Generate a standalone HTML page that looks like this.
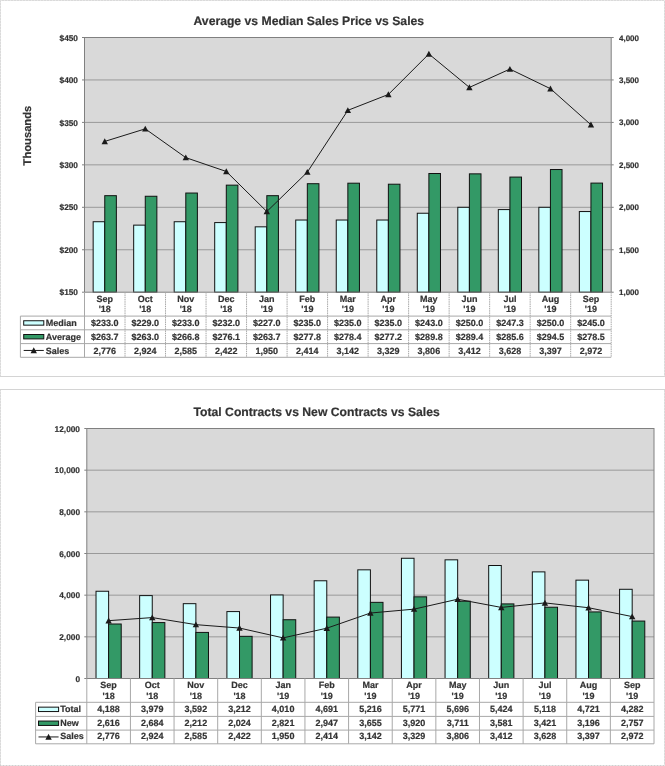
<!DOCTYPE html>
<html><head><meta charset="utf-8"><style>
html,body{margin:0;padding:0;background:#fff;}
svg{display:block;will-change:transform;text-rendering:geometricPrecision;}
</style></head><body>
<svg width="665" height="766" viewBox="0 0 665 766">
<path d="M0.5 376.5 V0.5 H664.5 V376.5" fill="none" stroke="#e6e6e6" stroke-width="1"/>
<path d="M0.5 376.5 V0.5 H664.5 V376.5" fill="none" stroke="#cfcfcf" stroke-width="1" stroke-dasharray="1 2"/>
<path d="M0.5 765.5 V389.5 H664.5 V765.5" fill="none" stroke="#e6e6e6" stroke-width="1"/>
<path d="M0.5 765.5 V389.5 H664.5 V765.5" fill="none" stroke="#cfcfcf" stroke-width="1" stroke-dasharray="1 2"/>
<line x1="0" y1="376.5" x2="665" y2="376.5" stroke="#d4d4d4" stroke-width="1"/>
<line x1="0" y1="389.5" x2="665" y2="389.5" stroke="#d4d4d4" stroke-width="1"/>
<line x1="0" y1="765.5" x2="665" y2="765.5" stroke="#e6e6e6" stroke-width="1"/>
<line x1="0" y1="765.5" x2="665" y2="765.5" stroke="#cfcfcf" stroke-width="1" stroke-dasharray="1 2"/>
<text x="193.5" y="25" font-family="Liberation Sans, sans-serif" font-weight="bold" stroke="#333333" stroke-width="0.2" font-size="12.2" fill="#333333">Average vs Median Sales Price vs Sales</text>
<rect x="84.5" y="37.5" width="526.7" height="254.7" fill="#d9d9d9"/>
<line x1="82.0" y1="292.20" x2="84.5" y2="292.20" stroke="#808080" stroke-width="1"/>
<text x="78.0" y="295.30" font-family="Liberation Sans, sans-serif" font-weight="bold" stroke="#333333" stroke-width="0.2" font-size="8.3" fill="#333333" text-anchor="end">$150</text>
<line x1="84.5" y1="249.75" x2="611.2" y2="249.75" stroke="#999999" stroke-width="1"/>
<line x1="82.0" y1="249.75" x2="84.5" y2="249.75" stroke="#808080" stroke-width="1"/>
<text x="78.0" y="252.85" font-family="Liberation Sans, sans-serif" font-weight="bold" stroke="#333333" stroke-width="0.2" font-size="8.3" fill="#333333" text-anchor="end">$200</text>
<line x1="84.5" y1="207.30" x2="611.2" y2="207.30" stroke="#999999" stroke-width="1"/>
<line x1="82.0" y1="207.30" x2="84.5" y2="207.30" stroke="#808080" stroke-width="1"/>
<text x="78.0" y="210.40" font-family="Liberation Sans, sans-serif" font-weight="bold" stroke="#333333" stroke-width="0.2" font-size="8.3" fill="#333333" text-anchor="end">$250</text>
<line x1="84.5" y1="164.85" x2="611.2" y2="164.85" stroke="#999999" stroke-width="1"/>
<line x1="82.0" y1="164.85" x2="84.5" y2="164.85" stroke="#808080" stroke-width="1"/>
<text x="78.0" y="167.95" font-family="Liberation Sans, sans-serif" font-weight="bold" stroke="#333333" stroke-width="0.2" font-size="8.3" fill="#333333" text-anchor="end">$300</text>
<line x1="84.5" y1="122.40" x2="611.2" y2="122.40" stroke="#999999" stroke-width="1"/>
<line x1="82.0" y1="122.40" x2="84.5" y2="122.40" stroke="#808080" stroke-width="1"/>
<text x="78.0" y="125.50" font-family="Liberation Sans, sans-serif" font-weight="bold" stroke="#333333" stroke-width="0.2" font-size="8.3" fill="#333333" text-anchor="end">$350</text>
<line x1="84.5" y1="79.95" x2="611.2" y2="79.95" stroke="#999999" stroke-width="1"/>
<line x1="82.0" y1="79.95" x2="84.5" y2="79.95" stroke="#808080" stroke-width="1"/>
<text x="78.0" y="83.05" font-family="Liberation Sans, sans-serif" font-weight="bold" stroke="#333333" stroke-width="0.2" font-size="8.3" fill="#333333" text-anchor="end">$400</text>
<line x1="82.0" y1="37.50" x2="84.5" y2="37.50" stroke="#808080" stroke-width="1"/>
<text x="78.0" y="40.60" font-family="Liberation Sans, sans-serif" font-weight="bold" stroke="#333333" stroke-width="0.2" font-size="8.3" fill="#333333" text-anchor="end">$450</text>
<line x1="611.2" y1="292.20" x2="613.7" y2="292.20" stroke="#808080" stroke-width="1"/>
<text x="619.0" y="295.20" font-family="Liberation Sans, sans-serif" font-weight="bold" stroke="#333333" stroke-width="0.2" font-size="8.0" fill="#333333">1,000</text>
<line x1="611.2" y1="249.75" x2="613.7" y2="249.75" stroke="#808080" stroke-width="1"/>
<text x="619.0" y="252.75" font-family="Liberation Sans, sans-serif" font-weight="bold" stroke="#333333" stroke-width="0.2" font-size="8.0" fill="#333333">1,500</text>
<line x1="611.2" y1="207.30" x2="613.7" y2="207.30" stroke="#808080" stroke-width="1"/>
<text x="619.0" y="210.30" font-family="Liberation Sans, sans-serif" font-weight="bold" stroke="#333333" stroke-width="0.2" font-size="8.0" fill="#333333">2,000</text>
<line x1="611.2" y1="164.85" x2="613.7" y2="164.85" stroke="#808080" stroke-width="1"/>
<text x="619.0" y="167.85" font-family="Liberation Sans, sans-serif" font-weight="bold" stroke="#333333" stroke-width="0.2" font-size="8.0" fill="#333333">2,500</text>
<line x1="611.2" y1="122.40" x2="613.7" y2="122.40" stroke="#808080" stroke-width="1"/>
<text x="619.0" y="125.40" font-family="Liberation Sans, sans-serif" font-weight="bold" stroke="#333333" stroke-width="0.2" font-size="8.0" fill="#333333">3,000</text>
<line x1="611.2" y1="79.95" x2="613.7" y2="79.95" stroke="#808080" stroke-width="1"/>
<text x="619.0" y="82.95" font-family="Liberation Sans, sans-serif" font-weight="bold" stroke="#333333" stroke-width="0.2" font-size="8.0" fill="#333333">3,500</text>
<line x1="611.2" y1="37.50" x2="613.7" y2="37.50" stroke="#808080" stroke-width="1"/>
<text x="619.0" y="40.50" font-family="Liberation Sans, sans-serif" font-weight="bold" stroke="#333333" stroke-width="0.2" font-size="8.0" fill="#333333">4,000</text>
<rect x="93.16" y="221.73" width="11.60" height="70.47" fill="#ccffff" stroke="#111111" stroke-width="1"/>
<rect x="104.76" y="195.67" width="11.60" height="96.53" fill="#339966" stroke="#111111" stroke-width="1"/>
<rect x="133.67" y="225.13" width="11.60" height="67.07" fill="#ccffff" stroke="#111111" stroke-width="1"/>
<rect x="145.27" y="196.26" width="11.60" height="95.94" fill="#339966" stroke="#111111" stroke-width="1"/>
<rect x="174.19" y="221.73" width="11.60" height="70.47" fill="#ccffff" stroke="#111111" stroke-width="1"/>
<rect x="185.79" y="193.04" width="11.60" height="99.16" fill="#339966" stroke="#111111" stroke-width="1"/>
<rect x="214.70" y="222.58" width="11.60" height="69.62" fill="#ccffff" stroke="#111111" stroke-width="1"/>
<rect x="226.30" y="185.14" width="11.60" height="107.06" fill="#339966" stroke="#111111" stroke-width="1"/>
<rect x="255.22" y="226.83" width="11.60" height="65.37" fill="#ccffff" stroke="#111111" stroke-width="1"/>
<rect x="266.82" y="195.67" width="11.60" height="96.53" fill="#339966" stroke="#111111" stroke-width="1"/>
<rect x="295.73" y="220.03" width="11.60" height="72.16" fill="#ccffff" stroke="#111111" stroke-width="1"/>
<rect x="307.33" y="183.70" width="11.60" height="108.50" fill="#339966" stroke="#111111" stroke-width="1"/>
<rect x="336.25" y="220.03" width="11.60" height="72.16" fill="#ccffff" stroke="#111111" stroke-width="1"/>
<rect x="347.85" y="183.19" width="11.60" height="109.01" fill="#339966" stroke="#111111" stroke-width="1"/>
<rect x="376.77" y="220.03" width="11.60" height="72.16" fill="#ccffff" stroke="#111111" stroke-width="1"/>
<rect x="388.37" y="184.21" width="11.60" height="107.99" fill="#339966" stroke="#111111" stroke-width="1"/>
<rect x="417.28" y="213.24" width="11.60" height="78.96" fill="#ccffff" stroke="#111111" stroke-width="1"/>
<rect x="428.88" y="173.51" width="11.60" height="118.69" fill="#339966" stroke="#111111" stroke-width="1"/>
<rect x="457.80" y="207.30" width="11.60" height="84.90" fill="#ccffff" stroke="#111111" stroke-width="1"/>
<rect x="469.40" y="173.85" width="11.60" height="118.35" fill="#339966" stroke="#111111" stroke-width="1"/>
<rect x="498.31" y="209.59" width="11.60" height="82.61" fill="#ccffff" stroke="#111111" stroke-width="1"/>
<rect x="509.91" y="177.08" width="11.60" height="115.12" fill="#339966" stroke="#111111" stroke-width="1"/>
<rect x="538.83" y="207.30" width="11.60" height="84.90" fill="#ccffff" stroke="#111111" stroke-width="1"/>
<rect x="550.43" y="169.52" width="11.60" height="122.68" fill="#339966" stroke="#111111" stroke-width="1"/>
<rect x="579.34" y="211.55" width="11.60" height="80.65" fill="#ccffff" stroke="#111111" stroke-width="1"/>
<rect x="590.94" y="183.10" width="11.60" height="109.10" fill="#339966" stroke="#111111" stroke-width="1"/>
<polyline points="104.76,141.42 145.27,128.85 185.79,157.63 226.30,171.47 266.82,211.55 307.33,172.15 347.85,110.34 388.37,94.47 428.88,53.97 469.40,87.42 509.91,69.08 550.43,88.69 590.94,124.78" fill="none" stroke="#1a1a1a" stroke-width="1.0"/>
<path d="M104.76 138.22 L107.96 144.14 L101.56 144.14 Z" fill="#1a1a1a"/>
<path d="M145.27 125.65 L148.47 131.57 L142.07 131.57 Z" fill="#1a1a1a"/>
<path d="M185.79 154.43 L188.99 160.35 L182.59 160.35 Z" fill="#1a1a1a"/>
<path d="M226.30 168.27 L229.50 174.19 L223.10 174.19 Z" fill="#1a1a1a"/>
<path d="M266.82 208.35 L270.02 214.27 L263.62 214.27 Z" fill="#1a1a1a"/>
<path d="M307.33 168.95 L310.53 174.87 L304.13 174.87 Z" fill="#1a1a1a"/>
<path d="M347.85 107.14 L351.05 113.06 L344.65 113.06 Z" fill="#1a1a1a"/>
<path d="M388.37 91.27 L391.57 97.19 L385.17 97.19 Z" fill="#1a1a1a"/>
<path d="M428.88 50.77 L432.08 56.69 L425.68 56.69 Z" fill="#1a1a1a"/>
<path d="M469.40 84.22 L472.60 90.14 L466.20 90.14 Z" fill="#1a1a1a"/>
<path d="M509.91 65.88 L513.11 71.80 L506.71 71.80 Z" fill="#1a1a1a"/>
<path d="M550.43 85.49 L553.63 91.41 L547.23 91.41 Z" fill="#1a1a1a"/>
<path d="M590.94 121.58 L594.14 127.50 L587.74 127.50 Z" fill="#1a1a1a"/>
<rect x="84.5" y="37.5" width="526.7" height="254.7" fill="none" stroke="#808080" stroke-width="1"/>
<line x1="84.50" y1="292.2" x2="84.50" y2="357.3" stroke="#a8a8a8" stroke-width="1"/>
<line x1="125.02" y1="292.2" x2="125.02" y2="357.3" stroke="#a8a8a8" stroke-width="1" stroke-dasharray="1.5 0.75"/>
<line x1="165.53" y1="292.2" x2="165.53" y2="357.3" stroke="#a8a8a8" stroke-width="1" stroke-dasharray="1.5 0.75"/>
<line x1="206.05" y1="292.2" x2="206.05" y2="357.3" stroke="#a8a8a8" stroke-width="1" stroke-dasharray="1.5 0.75"/>
<line x1="246.56" y1="292.2" x2="246.56" y2="357.3" stroke="#a8a8a8" stroke-width="1" stroke-dasharray="1.5 0.75"/>
<line x1="287.08" y1="292.2" x2="287.08" y2="357.3" stroke="#a8a8a8" stroke-width="1" stroke-dasharray="1.5 0.75"/>
<line x1="327.59" y1="292.2" x2="327.59" y2="357.3" stroke="#a8a8a8" stroke-width="1" stroke-dasharray="1.5 0.75"/>
<line x1="368.11" y1="292.2" x2="368.11" y2="357.3" stroke="#a8a8a8" stroke-width="1" stroke-dasharray="1.5 0.75"/>
<line x1="408.62" y1="292.2" x2="408.62" y2="357.3" stroke="#a8a8a8" stroke-width="1" stroke-dasharray="1.5 0.75"/>
<line x1="449.14" y1="292.2" x2="449.14" y2="357.3" stroke="#a8a8a8" stroke-width="1" stroke-dasharray="1.5 0.75"/>
<line x1="489.65" y1="292.2" x2="489.65" y2="357.3" stroke="#a8a8a8" stroke-width="1" stroke-dasharray="1.5 0.75"/>
<line x1="530.17" y1="292.2" x2="530.17" y2="357.3" stroke="#a8a8a8" stroke-width="1" stroke-dasharray="1.5 0.75"/>
<line x1="570.68" y1="292.2" x2="570.68" y2="357.3" stroke="#a8a8a8" stroke-width="1" stroke-dasharray="1.5 0.75"/>
<line x1="611.20" y1="292.2" x2="611.20" y2="357.3" stroke="#a8a8a8" stroke-width="1" stroke-dasharray="1.5 0.75"/>
<line x1="20.4" y1="316.1" x2="20.4" y2="357.3" stroke="#a8a8a8" stroke-width="1"/>
<line x1="20.4" y1="316.1" x2="611.2" y2="316.1" stroke="#a8a8a8" stroke-width="1"/>
<line x1="20.4" y1="329.8" x2="611.2" y2="329.8" stroke="#a8a8a8" stroke-width="1"/>
<line x1="20.4" y1="343.6" x2="611.2" y2="343.6" stroke="#a8a8a8" stroke-width="1"/>
<line x1="20.4" y1="357.3" x2="611.2" y2="357.3" stroke="#a8a8a8" stroke-width="1"/>
<text x="104.76" y="301.90" font-family="Liberation Sans, sans-serif" font-weight="bold" stroke="#333333" stroke-width="0.2" font-size="9" fill="#333333" text-anchor="middle">Sep</text>
<text x="104.76" y="312.30" font-family="Liberation Sans, sans-serif" font-weight="bold" stroke="#333333" stroke-width="0.2" font-size="9" fill="#333333" text-anchor="middle">'18</text>
<text x="145.27" y="301.90" font-family="Liberation Sans, sans-serif" font-weight="bold" stroke="#333333" stroke-width="0.2" font-size="9" fill="#333333" text-anchor="middle">Oct</text>
<text x="145.27" y="312.30" font-family="Liberation Sans, sans-serif" font-weight="bold" stroke="#333333" stroke-width="0.2" font-size="9" fill="#333333" text-anchor="middle">'18</text>
<text x="185.79" y="301.90" font-family="Liberation Sans, sans-serif" font-weight="bold" stroke="#333333" stroke-width="0.2" font-size="9" fill="#333333" text-anchor="middle">Nov</text>
<text x="185.79" y="312.30" font-family="Liberation Sans, sans-serif" font-weight="bold" stroke="#333333" stroke-width="0.2" font-size="9" fill="#333333" text-anchor="middle">'18</text>
<text x="226.30" y="301.90" font-family="Liberation Sans, sans-serif" font-weight="bold" stroke="#333333" stroke-width="0.2" font-size="9" fill="#333333" text-anchor="middle">Dec</text>
<text x="226.30" y="312.30" font-family="Liberation Sans, sans-serif" font-weight="bold" stroke="#333333" stroke-width="0.2" font-size="9" fill="#333333" text-anchor="middle">'18</text>
<text x="266.82" y="301.90" font-family="Liberation Sans, sans-serif" font-weight="bold" stroke="#333333" stroke-width="0.2" font-size="9" fill="#333333" text-anchor="middle">Jan</text>
<text x="266.82" y="312.30" font-family="Liberation Sans, sans-serif" font-weight="bold" stroke="#333333" stroke-width="0.2" font-size="9" fill="#333333" text-anchor="middle">'19</text>
<text x="307.33" y="301.90" font-family="Liberation Sans, sans-serif" font-weight="bold" stroke="#333333" stroke-width="0.2" font-size="9" fill="#333333" text-anchor="middle">Feb</text>
<text x="307.33" y="312.30" font-family="Liberation Sans, sans-serif" font-weight="bold" stroke="#333333" stroke-width="0.2" font-size="9" fill="#333333" text-anchor="middle">'19</text>
<text x="347.85" y="301.90" font-family="Liberation Sans, sans-serif" font-weight="bold" stroke="#333333" stroke-width="0.2" font-size="9" fill="#333333" text-anchor="middle">Mar</text>
<text x="347.85" y="312.30" font-family="Liberation Sans, sans-serif" font-weight="bold" stroke="#333333" stroke-width="0.2" font-size="9" fill="#333333" text-anchor="middle">'19</text>
<text x="388.37" y="301.90" font-family="Liberation Sans, sans-serif" font-weight="bold" stroke="#333333" stroke-width="0.2" font-size="9" fill="#333333" text-anchor="middle">Apr</text>
<text x="388.37" y="312.30" font-family="Liberation Sans, sans-serif" font-weight="bold" stroke="#333333" stroke-width="0.2" font-size="9" fill="#333333" text-anchor="middle">'19</text>
<text x="428.88" y="301.90" font-family="Liberation Sans, sans-serif" font-weight="bold" stroke="#333333" stroke-width="0.2" font-size="9" fill="#333333" text-anchor="middle">May</text>
<text x="428.88" y="312.30" font-family="Liberation Sans, sans-serif" font-weight="bold" stroke="#333333" stroke-width="0.2" font-size="9" fill="#333333" text-anchor="middle">'19</text>
<text x="469.40" y="301.90" font-family="Liberation Sans, sans-serif" font-weight="bold" stroke="#333333" stroke-width="0.2" font-size="9" fill="#333333" text-anchor="middle">Jun</text>
<text x="469.40" y="312.30" font-family="Liberation Sans, sans-serif" font-weight="bold" stroke="#333333" stroke-width="0.2" font-size="9" fill="#333333" text-anchor="middle">'19</text>
<text x="509.91" y="301.90" font-family="Liberation Sans, sans-serif" font-weight="bold" stroke="#333333" stroke-width="0.2" font-size="9" fill="#333333" text-anchor="middle">Jul</text>
<text x="509.91" y="312.30" font-family="Liberation Sans, sans-serif" font-weight="bold" stroke="#333333" stroke-width="0.2" font-size="9" fill="#333333" text-anchor="middle">'19</text>
<text x="550.43" y="301.90" font-family="Liberation Sans, sans-serif" font-weight="bold" stroke="#333333" stroke-width="0.2" font-size="9" fill="#333333" text-anchor="middle">Aug</text>
<text x="550.43" y="312.30" font-family="Liberation Sans, sans-serif" font-weight="bold" stroke="#333333" stroke-width="0.2" font-size="9" fill="#333333" text-anchor="middle">'19</text>
<text x="590.94" y="301.90" font-family="Liberation Sans, sans-serif" font-weight="bold" stroke="#333333" stroke-width="0.2" font-size="9" fill="#333333" text-anchor="middle">Sep</text>
<text x="590.94" y="312.30" font-family="Liberation Sans, sans-serif" font-weight="bold" stroke="#333333" stroke-width="0.2" font-size="9" fill="#333333" text-anchor="middle">'19</text>
<rect x="23.7" y="320.75" width="20.10" height="4.4" fill="#ccffff" stroke="#111111" stroke-width="1"/>
<text x="45.80" y="325.70" font-family="Liberation Sans, sans-serif" font-weight="bold" stroke="#333333" stroke-width="0.2" font-size="9" fill="#333333" text-anchor="start">Median</text>
<text x="104.76" y="325.70" font-family="Liberation Sans, sans-serif" font-weight="bold" stroke="#333333" stroke-width="0.2" font-size="9" fill="#333333" text-anchor="middle">$233.0</text>
<text x="145.27" y="325.70" font-family="Liberation Sans, sans-serif" font-weight="bold" stroke="#333333" stroke-width="0.2" font-size="9" fill="#333333" text-anchor="middle">$229.0</text>
<text x="185.79" y="325.70" font-family="Liberation Sans, sans-serif" font-weight="bold" stroke="#333333" stroke-width="0.2" font-size="9" fill="#333333" text-anchor="middle">$233.0</text>
<text x="226.30" y="325.70" font-family="Liberation Sans, sans-serif" font-weight="bold" stroke="#333333" stroke-width="0.2" font-size="9" fill="#333333" text-anchor="middle">$232.0</text>
<text x="266.82" y="325.70" font-family="Liberation Sans, sans-serif" font-weight="bold" stroke="#333333" stroke-width="0.2" font-size="9" fill="#333333" text-anchor="middle">$227.0</text>
<text x="307.33" y="325.70" font-family="Liberation Sans, sans-serif" font-weight="bold" stroke="#333333" stroke-width="0.2" font-size="9" fill="#333333" text-anchor="middle">$235.0</text>
<text x="347.85" y="325.70" font-family="Liberation Sans, sans-serif" font-weight="bold" stroke="#333333" stroke-width="0.2" font-size="9" fill="#333333" text-anchor="middle">$235.0</text>
<text x="388.37" y="325.70" font-family="Liberation Sans, sans-serif" font-weight="bold" stroke="#333333" stroke-width="0.2" font-size="9" fill="#333333" text-anchor="middle">$235.0</text>
<text x="428.88" y="325.70" font-family="Liberation Sans, sans-serif" font-weight="bold" stroke="#333333" stroke-width="0.2" font-size="9" fill="#333333" text-anchor="middle">$243.0</text>
<text x="469.40" y="325.70" font-family="Liberation Sans, sans-serif" font-weight="bold" stroke="#333333" stroke-width="0.2" font-size="9" fill="#333333" text-anchor="middle">$250.0</text>
<text x="509.91" y="325.70" font-family="Liberation Sans, sans-serif" font-weight="bold" stroke="#333333" stroke-width="0.2" font-size="9" fill="#333333" text-anchor="middle">$247.3</text>
<text x="550.43" y="325.70" font-family="Liberation Sans, sans-serif" font-weight="bold" stroke="#333333" stroke-width="0.2" font-size="9" fill="#333333" text-anchor="middle">$250.0</text>
<text x="590.94" y="325.70" font-family="Liberation Sans, sans-serif" font-weight="bold" stroke="#333333" stroke-width="0.2" font-size="9" fill="#333333" text-anchor="middle">$245.0</text>
<rect x="23.7" y="334.50" width="20.10" height="4.4" fill="#339966" stroke="#111111" stroke-width="1"/>
<text x="45.80" y="339.80" font-family="Liberation Sans, sans-serif" font-weight="bold" stroke="#333333" stroke-width="0.2" font-size="9" fill="#333333" text-anchor="start">Average</text>
<text x="104.76" y="339.80" font-family="Liberation Sans, sans-serif" font-weight="bold" stroke="#333333" stroke-width="0.2" font-size="9" fill="#333333" text-anchor="middle">$263.7</text>
<text x="145.27" y="339.80" font-family="Liberation Sans, sans-serif" font-weight="bold" stroke="#333333" stroke-width="0.2" font-size="9" fill="#333333" text-anchor="middle">$263.0</text>
<text x="185.79" y="339.80" font-family="Liberation Sans, sans-serif" font-weight="bold" stroke="#333333" stroke-width="0.2" font-size="9" fill="#333333" text-anchor="middle">$266.8</text>
<text x="226.30" y="339.80" font-family="Liberation Sans, sans-serif" font-weight="bold" stroke="#333333" stroke-width="0.2" font-size="9" fill="#333333" text-anchor="middle">$276.1</text>
<text x="266.82" y="339.80" font-family="Liberation Sans, sans-serif" font-weight="bold" stroke="#333333" stroke-width="0.2" font-size="9" fill="#333333" text-anchor="middle">$263.7</text>
<text x="307.33" y="339.80" font-family="Liberation Sans, sans-serif" font-weight="bold" stroke="#333333" stroke-width="0.2" font-size="9" fill="#333333" text-anchor="middle">$277.8</text>
<text x="347.85" y="339.80" font-family="Liberation Sans, sans-serif" font-weight="bold" stroke="#333333" stroke-width="0.2" font-size="9" fill="#333333" text-anchor="middle">$278.4</text>
<text x="388.37" y="339.80" font-family="Liberation Sans, sans-serif" font-weight="bold" stroke="#333333" stroke-width="0.2" font-size="9" fill="#333333" text-anchor="middle">$277.2</text>
<text x="428.88" y="339.80" font-family="Liberation Sans, sans-serif" font-weight="bold" stroke="#333333" stroke-width="0.2" font-size="9" fill="#333333" text-anchor="middle">$289.8</text>
<text x="469.40" y="339.80" font-family="Liberation Sans, sans-serif" font-weight="bold" stroke="#333333" stroke-width="0.2" font-size="9" fill="#333333" text-anchor="middle">$289.4</text>
<text x="509.91" y="339.80" font-family="Liberation Sans, sans-serif" font-weight="bold" stroke="#333333" stroke-width="0.2" font-size="9" fill="#333333" text-anchor="middle">$285.6</text>
<text x="550.43" y="339.80" font-family="Liberation Sans, sans-serif" font-weight="bold" stroke="#333333" stroke-width="0.2" font-size="9" fill="#333333" text-anchor="middle">$294.5</text>
<text x="590.94" y="339.80" font-family="Liberation Sans, sans-serif" font-weight="bold" stroke="#333333" stroke-width="0.2" font-size="9" fill="#333333" text-anchor="middle">$278.5</text>
<line x1="23.7" y1="350.45" x2="43.8" y2="350.45" stroke="#1a1a1a" stroke-width="1"/>
<path d="M33.75 347.25 L36.95 353.17 L30.55 353.17 Z" fill="#1a1a1a"/>
<text x="45.80" y="353.60" font-family="Liberation Sans, sans-serif" font-weight="bold" stroke="#333333" stroke-width="0.2" font-size="9" fill="#333333" text-anchor="start">Sales</text>
<text x="104.76" y="353.60" font-family="Liberation Sans, sans-serif" font-weight="bold" stroke="#333333" stroke-width="0.2" font-size="9" fill="#333333" text-anchor="middle">2,776</text>
<text x="145.27" y="353.60" font-family="Liberation Sans, sans-serif" font-weight="bold" stroke="#333333" stroke-width="0.2" font-size="9" fill="#333333" text-anchor="middle">2,924</text>
<text x="185.79" y="353.60" font-family="Liberation Sans, sans-serif" font-weight="bold" stroke="#333333" stroke-width="0.2" font-size="9" fill="#333333" text-anchor="middle">2,585</text>
<text x="226.30" y="353.60" font-family="Liberation Sans, sans-serif" font-weight="bold" stroke="#333333" stroke-width="0.2" font-size="9" fill="#333333" text-anchor="middle">2,422</text>
<text x="266.82" y="353.60" font-family="Liberation Sans, sans-serif" font-weight="bold" stroke="#333333" stroke-width="0.2" font-size="9" fill="#333333" text-anchor="middle">1,950</text>
<text x="307.33" y="353.60" font-family="Liberation Sans, sans-serif" font-weight="bold" stroke="#333333" stroke-width="0.2" font-size="9" fill="#333333" text-anchor="middle">2,414</text>
<text x="347.85" y="353.60" font-family="Liberation Sans, sans-serif" font-weight="bold" stroke="#333333" stroke-width="0.2" font-size="9" fill="#333333" text-anchor="middle">3,142</text>
<text x="388.37" y="353.60" font-family="Liberation Sans, sans-serif" font-weight="bold" stroke="#333333" stroke-width="0.2" font-size="9" fill="#333333" text-anchor="middle">3,329</text>
<text x="428.88" y="353.60" font-family="Liberation Sans, sans-serif" font-weight="bold" stroke="#333333" stroke-width="0.2" font-size="9" fill="#333333" text-anchor="middle">3,806</text>
<text x="469.40" y="353.60" font-family="Liberation Sans, sans-serif" font-weight="bold" stroke="#333333" stroke-width="0.2" font-size="9" fill="#333333" text-anchor="middle">3,412</text>
<text x="509.91" y="353.60" font-family="Liberation Sans, sans-serif" font-weight="bold" stroke="#333333" stroke-width="0.2" font-size="9" fill="#333333" text-anchor="middle">3,628</text>
<text x="550.43" y="353.60" font-family="Liberation Sans, sans-serif" font-weight="bold" stroke="#333333" stroke-width="0.2" font-size="9" fill="#333333" text-anchor="middle">3,397</text>
<text x="590.94" y="353.60" font-family="Liberation Sans, sans-serif" font-weight="bold" stroke="#333333" stroke-width="0.2" font-size="9" fill="#333333" text-anchor="middle">2,972</text>
<text transform="translate(31.3,135.6) rotate(-90)" font-family="Liberation Sans, sans-serif" font-weight="bold" stroke="#333333" stroke-width="0.2" font-size="11.2" fill="#333333" text-anchor="middle">Thousands</text>
<text x="193.5" y="416.3" font-family="Liberation Sans, sans-serif" font-weight="bold" stroke="#333333" stroke-width="0.2" font-size="12.2" fill="#333333">Total Contracts vs New Contracts vs Sales</text>
<rect x="86.8" y="428.5" width="567.2" height="250.0" fill="#d9d9d9"/>
<line x1="84.3" y1="678.50" x2="86.8" y2="678.50" stroke="#808080" stroke-width="1"/>
<text x="80.0" y="681.60" font-family="Liberation Sans, sans-serif" font-weight="bold" stroke="#333333" stroke-width="0.2" font-size="8.3" fill="#333333" text-anchor="end">0</text>
<line x1="86.8" y1="636.83" x2="654.0" y2="636.83" stroke="#999999" stroke-width="1"/>
<line x1="84.3" y1="636.83" x2="86.8" y2="636.83" stroke="#808080" stroke-width="1"/>
<text x="80.0" y="639.93" font-family="Liberation Sans, sans-serif" font-weight="bold" stroke="#333333" stroke-width="0.2" font-size="8.3" fill="#333333" text-anchor="end">2,000</text>
<line x1="86.8" y1="595.17" x2="654.0" y2="595.17" stroke="#999999" stroke-width="1"/>
<line x1="84.3" y1="595.17" x2="86.8" y2="595.17" stroke="#808080" stroke-width="1"/>
<text x="80.0" y="598.27" font-family="Liberation Sans, sans-serif" font-weight="bold" stroke="#333333" stroke-width="0.2" font-size="8.3" fill="#333333" text-anchor="end">4,000</text>
<line x1="86.8" y1="553.50" x2="654.0" y2="553.50" stroke="#999999" stroke-width="1"/>
<line x1="84.3" y1="553.50" x2="86.8" y2="553.50" stroke="#808080" stroke-width="1"/>
<text x="80.0" y="556.60" font-family="Liberation Sans, sans-serif" font-weight="bold" stroke="#333333" stroke-width="0.2" font-size="8.3" fill="#333333" text-anchor="end">6,000</text>
<line x1="86.8" y1="511.83" x2="654.0" y2="511.83" stroke="#999999" stroke-width="1"/>
<line x1="84.3" y1="511.83" x2="86.8" y2="511.83" stroke="#808080" stroke-width="1"/>
<text x="80.0" y="514.93" font-family="Liberation Sans, sans-serif" font-weight="bold" stroke="#333333" stroke-width="0.2" font-size="8.3" fill="#333333" text-anchor="end">8,000</text>
<line x1="86.8" y1="470.17" x2="654.0" y2="470.17" stroke="#999999" stroke-width="1"/>
<line x1="84.3" y1="470.17" x2="86.8" y2="470.17" stroke="#808080" stroke-width="1"/>
<text x="80.0" y="473.27" font-family="Liberation Sans, sans-serif" font-weight="bold" stroke="#333333" stroke-width="0.2" font-size="8.3" fill="#333333" text-anchor="end">10,000</text>
<line x1="84.3" y1="428.50" x2="86.8" y2="428.50" stroke="#808080" stroke-width="1"/>
<text x="80.0" y="431.60" font-family="Liberation Sans, sans-serif" font-weight="bold" stroke="#333333" stroke-width="0.2" font-size="8.3" fill="#333333" text-anchor="end">12,000</text>
<rect x="96.02" y="591.25" width="12.60" height="87.25" fill="#ccffff" stroke="#111111" stroke-width="1"/>
<rect x="108.62" y="624.00" width="12.60" height="54.50" fill="#339966" stroke="#111111" stroke-width="1"/>
<rect x="139.65" y="595.60" width="12.60" height="82.90" fill="#ccffff" stroke="#111111" stroke-width="1"/>
<rect x="152.25" y="622.58" width="12.60" height="55.92" fill="#339966" stroke="#111111" stroke-width="1"/>
<rect x="183.28" y="603.67" width="12.60" height="74.83" fill="#ccffff" stroke="#111111" stroke-width="1"/>
<rect x="195.88" y="632.42" width="12.60" height="46.08" fill="#339966" stroke="#111111" stroke-width="1"/>
<rect x="226.91" y="611.58" width="12.60" height="66.92" fill="#ccffff" stroke="#111111" stroke-width="1"/>
<rect x="239.51" y="636.33" width="12.60" height="42.17" fill="#339966" stroke="#111111" stroke-width="1"/>
<rect x="270.54" y="594.96" width="12.60" height="83.54" fill="#ccffff" stroke="#111111" stroke-width="1"/>
<rect x="283.14" y="619.73" width="12.60" height="58.77" fill="#339966" stroke="#111111" stroke-width="1"/>
<rect x="314.17" y="580.77" width="12.60" height="97.73" fill="#ccffff" stroke="#111111" stroke-width="1"/>
<rect x="326.77" y="617.10" width="12.60" height="61.40" fill="#339966" stroke="#111111" stroke-width="1"/>
<rect x="357.80" y="569.83" width="12.60" height="108.67" fill="#ccffff" stroke="#111111" stroke-width="1"/>
<rect x="370.40" y="602.35" width="12.60" height="76.15" fill="#339966" stroke="#111111" stroke-width="1"/>
<rect x="401.43" y="558.27" width="12.60" height="120.23" fill="#ccffff" stroke="#111111" stroke-width="1"/>
<rect x="414.03" y="596.83" width="12.60" height="81.67" fill="#339966" stroke="#111111" stroke-width="1"/>
<rect x="445.06" y="559.83" width="12.60" height="118.67" fill="#ccffff" stroke="#111111" stroke-width="1"/>
<rect x="457.66" y="601.19" width="12.60" height="77.31" fill="#339966" stroke="#111111" stroke-width="1"/>
<rect x="488.69" y="565.50" width="12.60" height="113.00" fill="#ccffff" stroke="#111111" stroke-width="1"/>
<rect x="501.29" y="603.90" width="12.60" height="74.60" fill="#339966" stroke="#111111" stroke-width="1"/>
<rect x="532.32" y="571.88" width="12.60" height="106.62" fill="#ccffff" stroke="#111111" stroke-width="1"/>
<rect x="544.92" y="607.23" width="12.60" height="71.27" fill="#339966" stroke="#111111" stroke-width="1"/>
<rect x="575.95" y="580.15" width="12.60" height="98.35" fill="#ccffff" stroke="#111111" stroke-width="1"/>
<rect x="588.55" y="611.92" width="12.60" height="66.58" fill="#339966" stroke="#111111" stroke-width="1"/>
<rect x="619.58" y="589.29" width="12.60" height="89.21" fill="#ccffff" stroke="#111111" stroke-width="1"/>
<rect x="632.18" y="621.06" width="12.60" height="57.44" fill="#339966" stroke="#111111" stroke-width="1"/>
<polyline points="108.62,620.67 152.25,617.58 195.88,624.65 239.51,628.04 283.14,637.88 326.77,628.21 370.40,613.04 414.03,609.15 457.66,599.21 501.29,607.42 544.92,602.92 588.55,607.73 632.18,616.58" fill="none" stroke="#1a1a1a" stroke-width="1.0"/>
<path d="M108.62 617.47 L111.82 623.39 L105.42 623.39 Z" fill="#1a1a1a"/>
<path d="M152.25 614.38 L155.45 620.30 L149.05 620.30 Z" fill="#1a1a1a"/>
<path d="M195.88 621.45 L199.08 627.37 L192.68 627.37 Z" fill="#1a1a1a"/>
<path d="M239.51 624.84 L242.71 630.76 L236.31 630.76 Z" fill="#1a1a1a"/>
<path d="M283.14 634.67 L286.34 640.60 L279.94 640.60 Z" fill="#1a1a1a"/>
<path d="M326.77 625.01 L329.97 630.93 L323.57 630.93 Z" fill="#1a1a1a"/>
<path d="M370.40 609.84 L373.60 615.76 L367.20 615.76 Z" fill="#1a1a1a"/>
<path d="M414.03 605.95 L417.23 611.87 L410.83 611.87 Z" fill="#1a1a1a"/>
<path d="M457.66 596.01 L460.86 601.93 L454.46 601.93 Z" fill="#1a1a1a"/>
<path d="M501.29 604.22 L504.49 610.14 L498.09 610.14 Z" fill="#1a1a1a"/>
<path d="M544.92 599.72 L548.12 605.64 L541.72 605.64 Z" fill="#1a1a1a"/>
<path d="M588.55 604.53 L591.75 610.45 L585.35 610.45 Z" fill="#1a1a1a"/>
<path d="M632.18 613.38 L635.38 619.30 L628.98 619.30 Z" fill="#1a1a1a"/>
<rect x="86.8" y="428.5" width="567.2" height="250.0" fill="none" stroke="#808080" stroke-width="1"/>
<line x1="86.80" y1="678.5" x2="86.80" y2="743.8" stroke="#a8a8a8" stroke-width="1"/>
<line x1="130.43" y1="678.5" x2="130.43" y2="743.8" stroke="#a8a8a8" stroke-width="1"/>
<line x1="174.06" y1="678.5" x2="174.06" y2="743.8" stroke="#a8a8a8" stroke-width="1"/>
<line x1="217.69" y1="678.5" x2="217.69" y2="743.8" stroke="#a8a8a8" stroke-width="1"/>
<line x1="261.32" y1="678.5" x2="261.32" y2="743.8" stroke="#a8a8a8" stroke-width="1"/>
<line x1="304.95" y1="678.5" x2="304.95" y2="743.8" stroke="#a8a8a8" stroke-width="1"/>
<line x1="348.58" y1="678.5" x2="348.58" y2="743.8" stroke="#a8a8a8" stroke-width="1"/>
<line x1="392.22" y1="678.5" x2="392.22" y2="743.8" stroke="#a8a8a8" stroke-width="1"/>
<line x1="435.85" y1="678.5" x2="435.85" y2="743.8" stroke="#a8a8a8" stroke-width="1"/>
<line x1="479.48" y1="678.5" x2="479.48" y2="743.8" stroke="#a8a8a8" stroke-width="1"/>
<line x1="523.11" y1="678.5" x2="523.11" y2="743.8" stroke="#a8a8a8" stroke-width="1"/>
<line x1="566.74" y1="678.5" x2="566.74" y2="743.8" stroke="#a8a8a8" stroke-width="1"/>
<line x1="610.37" y1="678.5" x2="610.37" y2="743.8" stroke="#a8a8a8" stroke-width="1"/>
<line x1="654.00" y1="678.5" x2="654.00" y2="743.8" stroke="#a8a8a8" stroke-width="1"/>
<line x1="35.6" y1="702.3" x2="35.6" y2="743.8" stroke="#a8a8a8" stroke-width="1"/>
<line x1="35.6" y1="702.3" x2="654.0" y2="702.3" stroke="#a8a8a8" stroke-width="1"/>
<line x1="35.6" y1="716.4" x2="654.0" y2="716.4" stroke="#a8a8a8" stroke-width="1"/>
<line x1="35.6" y1="730.1" x2="654.0" y2="730.1" stroke="#a8a8a8" stroke-width="1"/>
<line x1="35.6" y1="743.8" x2="654.0" y2="743.8" stroke="#a8a8a8" stroke-width="1"/>
<text x="108.62" y="688.20" font-family="Liberation Sans, sans-serif" font-weight="bold" stroke="#333333" stroke-width="0.2" font-size="9" fill="#333333" text-anchor="middle">Sep</text>
<text x="108.62" y="698.60" font-family="Liberation Sans, sans-serif" font-weight="bold" stroke="#333333" stroke-width="0.2" font-size="9" fill="#333333" text-anchor="middle">'18</text>
<text x="152.25" y="688.20" font-family="Liberation Sans, sans-serif" font-weight="bold" stroke="#333333" stroke-width="0.2" font-size="9" fill="#333333" text-anchor="middle">Oct</text>
<text x="152.25" y="698.60" font-family="Liberation Sans, sans-serif" font-weight="bold" stroke="#333333" stroke-width="0.2" font-size="9" fill="#333333" text-anchor="middle">'18</text>
<text x="195.88" y="688.20" font-family="Liberation Sans, sans-serif" font-weight="bold" stroke="#333333" stroke-width="0.2" font-size="9" fill="#333333" text-anchor="middle">Nov</text>
<text x="195.88" y="698.60" font-family="Liberation Sans, sans-serif" font-weight="bold" stroke="#333333" stroke-width="0.2" font-size="9" fill="#333333" text-anchor="middle">'18</text>
<text x="239.51" y="688.20" font-family="Liberation Sans, sans-serif" font-weight="bold" stroke="#333333" stroke-width="0.2" font-size="9" fill="#333333" text-anchor="middle">Dec</text>
<text x="239.51" y="698.60" font-family="Liberation Sans, sans-serif" font-weight="bold" stroke="#333333" stroke-width="0.2" font-size="9" fill="#333333" text-anchor="middle">'18</text>
<text x="283.14" y="688.20" font-family="Liberation Sans, sans-serif" font-weight="bold" stroke="#333333" stroke-width="0.2" font-size="9" fill="#333333" text-anchor="middle">Jan</text>
<text x="283.14" y="698.60" font-family="Liberation Sans, sans-serif" font-weight="bold" stroke="#333333" stroke-width="0.2" font-size="9" fill="#333333" text-anchor="middle">'19</text>
<text x="326.77" y="688.20" font-family="Liberation Sans, sans-serif" font-weight="bold" stroke="#333333" stroke-width="0.2" font-size="9" fill="#333333" text-anchor="middle">Feb</text>
<text x="326.77" y="698.60" font-family="Liberation Sans, sans-serif" font-weight="bold" stroke="#333333" stroke-width="0.2" font-size="9" fill="#333333" text-anchor="middle">'19</text>
<text x="370.40" y="688.20" font-family="Liberation Sans, sans-serif" font-weight="bold" stroke="#333333" stroke-width="0.2" font-size="9" fill="#333333" text-anchor="middle">Mar</text>
<text x="370.40" y="698.60" font-family="Liberation Sans, sans-serif" font-weight="bold" stroke="#333333" stroke-width="0.2" font-size="9" fill="#333333" text-anchor="middle">'19</text>
<text x="414.03" y="688.20" font-family="Liberation Sans, sans-serif" font-weight="bold" stroke="#333333" stroke-width="0.2" font-size="9" fill="#333333" text-anchor="middle">Apr</text>
<text x="414.03" y="698.60" font-family="Liberation Sans, sans-serif" font-weight="bold" stroke="#333333" stroke-width="0.2" font-size="9" fill="#333333" text-anchor="middle">'19</text>
<text x="457.66" y="688.20" font-family="Liberation Sans, sans-serif" font-weight="bold" stroke="#333333" stroke-width="0.2" font-size="9" fill="#333333" text-anchor="middle">May</text>
<text x="457.66" y="698.60" font-family="Liberation Sans, sans-serif" font-weight="bold" stroke="#333333" stroke-width="0.2" font-size="9" fill="#333333" text-anchor="middle">'19</text>
<text x="501.29" y="688.20" font-family="Liberation Sans, sans-serif" font-weight="bold" stroke="#333333" stroke-width="0.2" font-size="9" fill="#333333" text-anchor="middle">Jun</text>
<text x="501.29" y="698.60" font-family="Liberation Sans, sans-serif" font-weight="bold" stroke="#333333" stroke-width="0.2" font-size="9" fill="#333333" text-anchor="middle">'19</text>
<text x="544.92" y="688.20" font-family="Liberation Sans, sans-serif" font-weight="bold" stroke="#333333" stroke-width="0.2" font-size="9" fill="#333333" text-anchor="middle">Jul</text>
<text x="544.92" y="698.60" font-family="Liberation Sans, sans-serif" font-weight="bold" stroke="#333333" stroke-width="0.2" font-size="9" fill="#333333" text-anchor="middle">'19</text>
<text x="588.55" y="688.20" font-family="Liberation Sans, sans-serif" font-weight="bold" stroke="#333333" stroke-width="0.2" font-size="9" fill="#333333" text-anchor="middle">Aug</text>
<text x="588.55" y="698.60" font-family="Liberation Sans, sans-serif" font-weight="bold" stroke="#333333" stroke-width="0.2" font-size="9" fill="#333333" text-anchor="middle">'19</text>
<text x="632.18" y="688.20" font-family="Liberation Sans, sans-serif" font-weight="bold" stroke="#333333" stroke-width="0.2" font-size="9" fill="#333333" text-anchor="middle">Sep</text>
<text x="632.18" y="698.60" font-family="Liberation Sans, sans-serif" font-weight="bold" stroke="#333333" stroke-width="0.2" font-size="9" fill="#333333" text-anchor="middle">'19</text>
<rect x="38.5" y="707.15" width="20.10" height="4.4" fill="#ccffff" stroke="#111111" stroke-width="1"/>
<text x="60.20" y="711.50" font-family="Liberation Sans, sans-serif" font-weight="bold" stroke="#333333" stroke-width="0.2" font-size="9" fill="#333333" text-anchor="start">Total</text>
<text x="108.62" y="711.50" font-family="Liberation Sans, sans-serif" font-weight="bold" stroke="#333333" stroke-width="0.2" font-size="9" fill="#333333" text-anchor="middle">4,188</text>
<text x="152.25" y="711.50" font-family="Liberation Sans, sans-serif" font-weight="bold" stroke="#333333" stroke-width="0.2" font-size="9" fill="#333333" text-anchor="middle">3,979</text>
<text x="195.88" y="711.50" font-family="Liberation Sans, sans-serif" font-weight="bold" stroke="#333333" stroke-width="0.2" font-size="9" fill="#333333" text-anchor="middle">3,592</text>
<text x="239.51" y="711.50" font-family="Liberation Sans, sans-serif" font-weight="bold" stroke="#333333" stroke-width="0.2" font-size="9" fill="#333333" text-anchor="middle">3,212</text>
<text x="283.14" y="711.50" font-family="Liberation Sans, sans-serif" font-weight="bold" stroke="#333333" stroke-width="0.2" font-size="9" fill="#333333" text-anchor="middle">4,010</text>
<text x="326.77" y="711.50" font-family="Liberation Sans, sans-serif" font-weight="bold" stroke="#333333" stroke-width="0.2" font-size="9" fill="#333333" text-anchor="middle">4,691</text>
<text x="370.40" y="711.50" font-family="Liberation Sans, sans-serif" font-weight="bold" stroke="#333333" stroke-width="0.2" font-size="9" fill="#333333" text-anchor="middle">5,216</text>
<text x="414.03" y="711.50" font-family="Liberation Sans, sans-serif" font-weight="bold" stroke="#333333" stroke-width="0.2" font-size="9" fill="#333333" text-anchor="middle">5,771</text>
<text x="457.66" y="711.50" font-family="Liberation Sans, sans-serif" font-weight="bold" stroke="#333333" stroke-width="0.2" font-size="9" fill="#333333" text-anchor="middle">5,696</text>
<text x="501.29" y="711.50" font-family="Liberation Sans, sans-serif" font-weight="bold" stroke="#333333" stroke-width="0.2" font-size="9" fill="#333333" text-anchor="middle">5,424</text>
<text x="544.92" y="711.50" font-family="Liberation Sans, sans-serif" font-weight="bold" stroke="#333333" stroke-width="0.2" font-size="9" fill="#333333" text-anchor="middle">5,118</text>
<text x="588.55" y="711.50" font-family="Liberation Sans, sans-serif" font-weight="bold" stroke="#333333" stroke-width="0.2" font-size="9" fill="#333333" text-anchor="middle">4,721</text>
<text x="632.18" y="711.50" font-family="Liberation Sans, sans-serif" font-weight="bold" stroke="#333333" stroke-width="0.2" font-size="9" fill="#333333" text-anchor="middle">4,282</text>
<rect x="38.5" y="721.05" width="20.10" height="4.4" fill="#339966" stroke="#111111" stroke-width="1"/>
<text x="60.20" y="725.60" font-family="Liberation Sans, sans-serif" font-weight="bold" stroke="#333333" stroke-width="0.2" font-size="9" fill="#333333" text-anchor="start">New</text>
<text x="108.62" y="725.60" font-family="Liberation Sans, sans-serif" font-weight="bold" stroke="#333333" stroke-width="0.2" font-size="9" fill="#333333" text-anchor="middle">2,616</text>
<text x="152.25" y="725.60" font-family="Liberation Sans, sans-serif" font-weight="bold" stroke="#333333" stroke-width="0.2" font-size="9" fill="#333333" text-anchor="middle">2,684</text>
<text x="195.88" y="725.60" font-family="Liberation Sans, sans-serif" font-weight="bold" stroke="#333333" stroke-width="0.2" font-size="9" fill="#333333" text-anchor="middle">2,212</text>
<text x="239.51" y="725.60" font-family="Liberation Sans, sans-serif" font-weight="bold" stroke="#333333" stroke-width="0.2" font-size="9" fill="#333333" text-anchor="middle">2,024</text>
<text x="283.14" y="725.60" font-family="Liberation Sans, sans-serif" font-weight="bold" stroke="#333333" stroke-width="0.2" font-size="9" fill="#333333" text-anchor="middle">2,821</text>
<text x="326.77" y="725.60" font-family="Liberation Sans, sans-serif" font-weight="bold" stroke="#333333" stroke-width="0.2" font-size="9" fill="#333333" text-anchor="middle">2,947</text>
<text x="370.40" y="725.60" font-family="Liberation Sans, sans-serif" font-weight="bold" stroke="#333333" stroke-width="0.2" font-size="9" fill="#333333" text-anchor="middle">3,655</text>
<text x="414.03" y="725.60" font-family="Liberation Sans, sans-serif" font-weight="bold" stroke="#333333" stroke-width="0.2" font-size="9" fill="#333333" text-anchor="middle">3,920</text>
<text x="457.66" y="725.60" font-family="Liberation Sans, sans-serif" font-weight="bold" stroke="#333333" stroke-width="0.2" font-size="9" fill="#333333" text-anchor="middle">3,711</text>
<text x="501.29" y="725.60" font-family="Liberation Sans, sans-serif" font-weight="bold" stroke="#333333" stroke-width="0.2" font-size="9" fill="#333333" text-anchor="middle">3,581</text>
<text x="544.92" y="725.60" font-family="Liberation Sans, sans-serif" font-weight="bold" stroke="#333333" stroke-width="0.2" font-size="9" fill="#333333" text-anchor="middle">3,421</text>
<text x="588.55" y="725.60" font-family="Liberation Sans, sans-serif" font-weight="bold" stroke="#333333" stroke-width="0.2" font-size="9" fill="#333333" text-anchor="middle">3,196</text>
<text x="632.18" y="725.60" font-family="Liberation Sans, sans-serif" font-weight="bold" stroke="#333333" stroke-width="0.2" font-size="9" fill="#333333" text-anchor="middle">2,757</text>
<line x1="38.5" y1="736.95" x2="58.6" y2="736.95" stroke="#1a1a1a" stroke-width="1"/>
<path d="M48.55 733.75 L51.75 739.67 L45.35 739.67 Z" fill="#1a1a1a"/>
<text x="60.20" y="739.30" font-family="Liberation Sans, sans-serif" font-weight="bold" stroke="#333333" stroke-width="0.2" font-size="9" fill="#333333" text-anchor="start">Sales</text>
<text x="108.62" y="739.30" font-family="Liberation Sans, sans-serif" font-weight="bold" stroke="#333333" stroke-width="0.2" font-size="9" fill="#333333" text-anchor="middle">2,776</text>
<text x="152.25" y="739.30" font-family="Liberation Sans, sans-serif" font-weight="bold" stroke="#333333" stroke-width="0.2" font-size="9" fill="#333333" text-anchor="middle">2,924</text>
<text x="195.88" y="739.30" font-family="Liberation Sans, sans-serif" font-weight="bold" stroke="#333333" stroke-width="0.2" font-size="9" fill="#333333" text-anchor="middle">2,585</text>
<text x="239.51" y="739.30" font-family="Liberation Sans, sans-serif" font-weight="bold" stroke="#333333" stroke-width="0.2" font-size="9" fill="#333333" text-anchor="middle">2,422</text>
<text x="283.14" y="739.30" font-family="Liberation Sans, sans-serif" font-weight="bold" stroke="#333333" stroke-width="0.2" font-size="9" fill="#333333" text-anchor="middle">1,950</text>
<text x="326.77" y="739.30" font-family="Liberation Sans, sans-serif" font-weight="bold" stroke="#333333" stroke-width="0.2" font-size="9" fill="#333333" text-anchor="middle">2,414</text>
<text x="370.40" y="739.30" font-family="Liberation Sans, sans-serif" font-weight="bold" stroke="#333333" stroke-width="0.2" font-size="9" fill="#333333" text-anchor="middle">3,142</text>
<text x="414.03" y="739.30" font-family="Liberation Sans, sans-serif" font-weight="bold" stroke="#333333" stroke-width="0.2" font-size="9" fill="#333333" text-anchor="middle">3,329</text>
<text x="457.66" y="739.30" font-family="Liberation Sans, sans-serif" font-weight="bold" stroke="#333333" stroke-width="0.2" font-size="9" fill="#333333" text-anchor="middle">3,806</text>
<text x="501.29" y="739.30" font-family="Liberation Sans, sans-serif" font-weight="bold" stroke="#333333" stroke-width="0.2" font-size="9" fill="#333333" text-anchor="middle">3,412</text>
<text x="544.92" y="739.30" font-family="Liberation Sans, sans-serif" font-weight="bold" stroke="#333333" stroke-width="0.2" font-size="9" fill="#333333" text-anchor="middle">3,628</text>
<text x="588.55" y="739.30" font-family="Liberation Sans, sans-serif" font-weight="bold" stroke="#333333" stroke-width="0.2" font-size="9" fill="#333333" text-anchor="middle">3,397</text>
<text x="632.18" y="739.30" font-family="Liberation Sans, sans-serif" font-weight="bold" stroke="#333333" stroke-width="0.2" font-size="9" fill="#333333" text-anchor="middle">2,972</text>
</svg>
</body></html>
